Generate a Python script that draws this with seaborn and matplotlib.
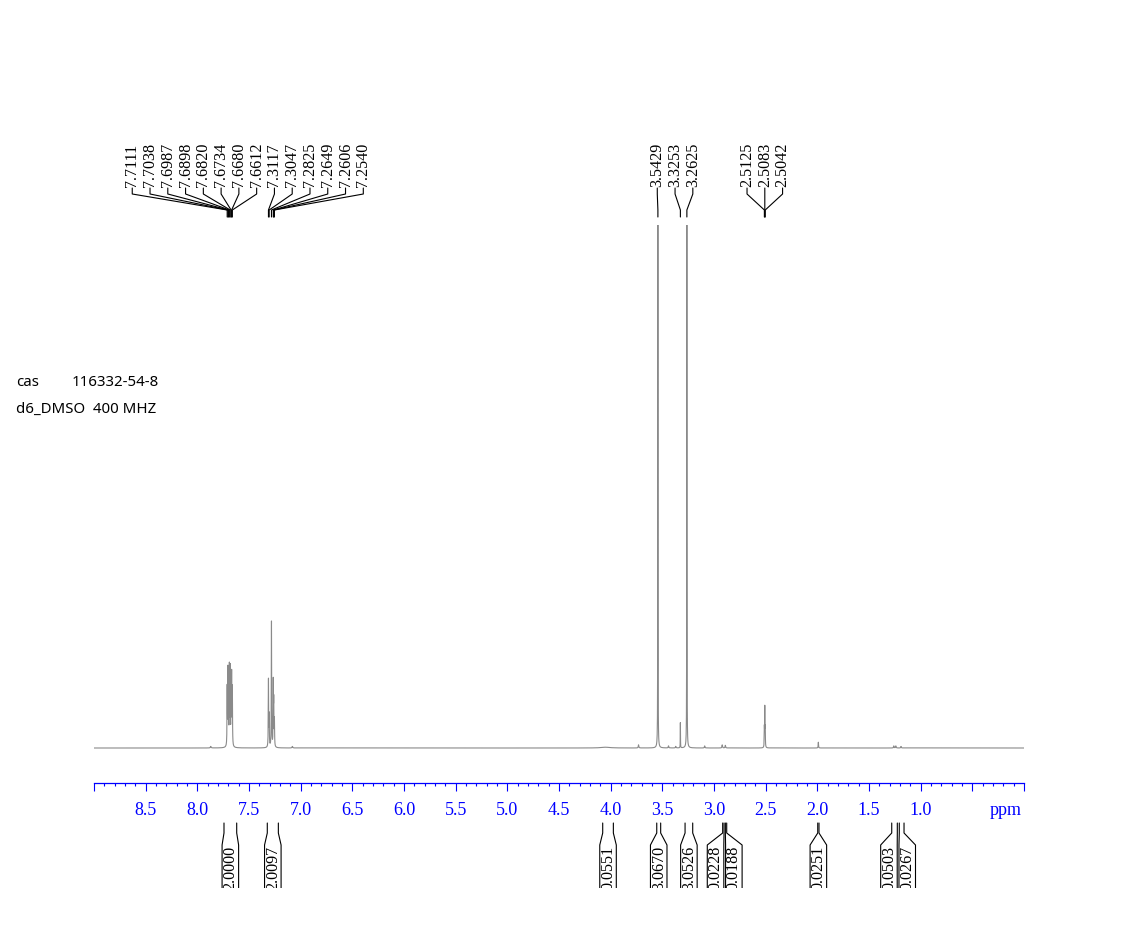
import numpy as np
import pandas as pd
import matplotlib
matplotlib.use("Agg")
import matplotlib.pyplot as plt
import seaborn as sns
from matplotlib.ticker import MultipleLocator, FuncFormatter

# --------------------------
# Datos leídos del espectro
# --------------------------
# Picos etiquetados (ppm) y alturas relativas (1.0 = borde superior)
picos_aromaticos = [7.7111, 7.7038, 7.6987, 7.6898, 7.6820, 7.6734, 7.6680, 7.6612,
                    7.3117, 7.3047, 7.2825, 7.2649, 7.2606, 7.2540]
alturas_aromaticos = [0.11, 0.14, 0.09, 0.15, 0.145, 0.09, 0.13, 0.11,
                      0.13, 0.06, 0.24, 0.12, 0.08, 0.05]

picos_metilo = [3.5429, 3.3253, 3.2625]
alturas_metilo = [1.3, 0.05, 1.3]

picos_dmso = [2.5125, 2.5083, 2.5042]
alturas_dmso = [0.035, 0.075, 0.035]

# Señales pequeñas sin etiqueta
picos_menores = [7.87, 7.08, 4.05, 3.73, 3.44, 3.37, 3.09, 2.92, 2.89, 1.99, 1.26, 1.24, 1.19]
alturas_menores = [0.003, 0.003, 0.0015, 0.006, 0.004, 0.003, 0.004, 0.006, 0.005, 0.011, 0.004, 0.004, 0.003]
anchos_menores = [0.004, 0.004, 0.05, 0.003, 0.003, 0.003, 0.003, 0.003, 0.003, 0.002, 0.003, 0.003, 0.003]

# Integrales
integral_inicio = [7.742, 7.323, 4.077, 3.554, 3.280, 2.916, 2.890, 1.996, 1.280, 1.207]
integral_fin = [7.619, 7.216, 3.974, 3.516, 3.206, 2.903, 2.877, 1.984, 1.226, 1.161]
integral_valor = ["2.0000", "2.0097", "0.0551", "3.0670", "3.0526",
                  "0.0228", "0.0188", "0.0251", "0.0503", "0.0267"]

texto_cas = "116332-54-8"
texto_disolvente = "d6_DMSO  400 MHZ"

# --------------------------
# Construcción de la curva (líneas lorentzianas)
# --------------------------
ppm = np.arange(0.0, 9.0, 0.0005)
intensidad = np.zeros_like(ppm)
for grupo, alturas, hw in [(picos_aromaticos, alturas_aromaticos, 0.0018),
                           (picos_metilo, alturas_metilo, 0.001),
                           (picos_dmso, alturas_dmso, 0.0015)]:
    for p, h in zip(grupo, alturas):
        intensidad += h / (1 + ((ppm - p) / hw) ** 2)
for p, h, w in zip(picos_menores, alturas_menores, anchos_menores):
    intensidad += h / (1 + ((ppm - p) / w) ** 2)

df = pd.DataFrame({"ppm": ppm, "intensidad": intensidad})

# --------------------------
# Figura
# --------------------------
sns.set_theme(style="ticks")
plt.rcParams["font.family"] = ["Liberation Serif", "DejaVu Serif"]

fig = plt.figure(figsize=(11.46, 9.52), dpi=100)
W, H = 1146, 952
izq, ancho = 94 / W, 930 / W

ax = fig.add_axes([izq, 1 - 783 / H, ancho, (783 - 225) / H])
ax_top = fig.add_axes([izq, 1 - 225 / H, ancho, 95 / H], sharex=ax)
ax_int = fig.add_axes([izq, 1 - 888 / H, ancho, 73 / H], sharex=ax)

sns.lineplot(data=df, x="ppm", y="intensidad", ax=ax, color="#8a8a8a",
             lw=0.8, estimator=None, sort=False)
ax.set_xlim(9.0, 0.0)
ax.set_ylim(-35 / 523, 1.0)
ax.set_xlabel("")
ax.set_ylabel("")
ax.set_yticks([])
for s in ["top", "right", "left"]:
    ax.spines[s].set_visible(False)
azul = "#0000ff"
ax.spines["bottom"].set_color(azul)
ax.spines["bottom"].set_linewidth(0.9)
ax.xaxis.set_major_locator(MultipleLocator(0.5))
ax.xaxis.set_minor_locator(MultipleLocator(0.1))
ax.xaxis.set_major_formatter(FuncFormatter(
    lambda v, pos: "" if (v > 8.75 or v < 0.75) else f"{v:.1f}"))
ax.tick_params(axis="x", which="major", direction="out", length=6, width=0.8,
               color=azul, labelcolor=azul, labelsize=13, pad=7.5)
ax.tick_params(axis="x", which="minor", direction="out", length=2, width=0.8,
               color=azul)
ax.annotate("ppm", xy=(0.18, 0), xycoords=ax.get_xaxis_transform(),
            xytext=(0, -19), textcoords="offset pixels", ha="center", va="top",
            color=azul, fontsize=13)

# --------------------------
# Etiquetas de picos (parte superior)
# --------------------------
ax_top.set_ylim(225, 130)
ax_top.axis("off")
sep = 0.172
for grupo in [picos_aromaticos, picos_metilo, picos_dmso]:
    n = len(grupo)
    centro = np.mean(grupo)
    for i, p in enumerate(grupo):
        lx = centro + ((n - 1) / 2 - i) * sep
        ax_top.plot([lx, lx, p, p], [188, 194, 210, 217], color="black", lw=0.8)
        ax_top.text(lx, 187, f"{p:.4f}", rotation=90, ha="center", va="bottom",
                    fontsize=11.6, color="black")

# --------------------------
# Integrales (parte inferior)
# --------------------------
ax_int.set_ylim(888, 815)
ax_int.axis("off")
caja = 0.16
sep_min = 0.177
centros = [(a + b) / 2 for a, b in zip(integral_inicio, integral_fin)]
for i in range(len(centros) - 1):
    d = centros[i] - centros[i + 1]
    if d < sep_min:
        mover = (sep_min - d) / 2
        centros[i] += mover
        centros[i + 1] -= mover
for a, b, c, val in zip(integral_inicio, integral_fin, centros, integral_valor):
    ax_int.plot([a, a, c + caja / 2, c + caja / 2], [823, 833, 845, 900],
                color="black", lw=0.8)
    ax_int.plot([b, b, c - caja / 2, c - caja / 2], [823, 833, 845, 900],
                color="black", lw=0.8)
    ax_int.text(c, 846, val, rotation=90, ha="center", va="top", fontsize=11.6,
                color="black", clip_on=True)

# --------------------------
# Texto de la muestra
# --------------------------
fuente = ["Noto Sans", "DejaVu Sans"]
fig.text(16 / W, 1 - 383 / H, "cas", family=fuente, fontsize=10.8, va="center",
         color="black")
fig.text(72 / W, 1 - 383 / H, texto_cas, family=fuente, fontsize=10.8, va="center",
         color="black")
fig.text(16 / W, 1 - 409 / H, texto_disolvente, family=fuente, fontsize=10.8,
         va="center", color="black")

fig.savefig("out.png", dpi=100)
